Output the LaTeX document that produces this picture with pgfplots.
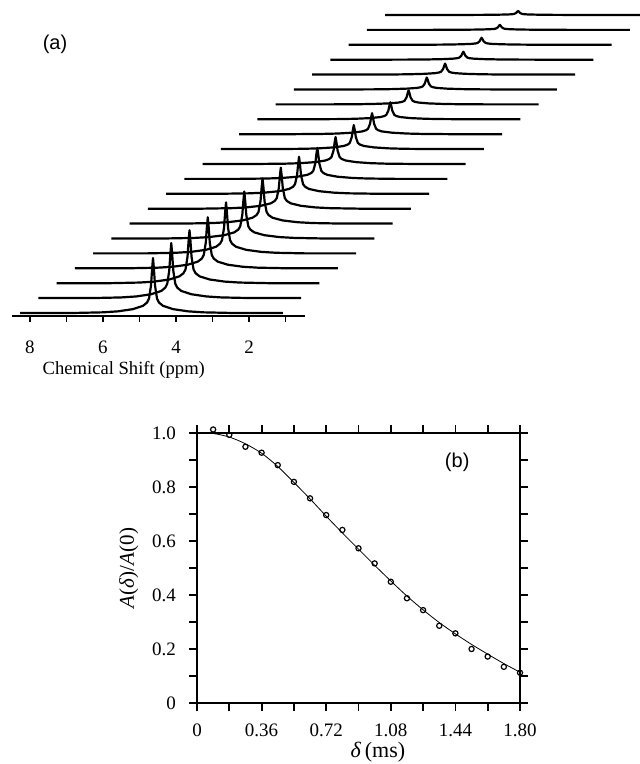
\documentclass[border=0pt]{standalone}
\usepackage{fontspec}
\setmainfont{Liberation Serif}
\newfontfamily\arialfont{Liberation Sans}
\usepackage{pgfplots}
\pgfplotsset{compat=1.18}
\usepackage{pgfplotstable}

% normalised peak profile: d = ppm offset from the peak, I = relative intensity
\pgfplotstableread{
d I
3.64 0
2.19 0
1.37 0.012
0.96 0.03
0.55 0.07
0.274 0.13
0.164 0.19
0.11 0.26
0.055 0.5
0.025 0.8
0 1
-0.025 0.8
-0.055 0.5
-0.11 0.26
-0.164 0.19
-0.274 0.13
-0.55 0.07
-0.96 0.03
-1.37 0.012
-2.19 0
-3.56 0
}\profile

\pgfplotstableread{
t A
0.09 1.013
0.18 0.993
0.27 0.949
0.36 0.927
0.45 0.881
0.54 0.819
0.63 0.758
0.72 0.696
0.81 0.641
0.90 0.573
0.99 0.517
1.08 0.449
1.17 0.388
1.26 0.344
1.35 0.286
1.44 0.258
1.53 0.200
1.62 0.172
1.71 0.134
1.80 0.112
}\points

\pgfplotstableread{
t A
0.00 1.000
0.09 0.998
0.18 0.985
0.27 0.960
0.36 0.925
0.45 0.876
0.54 0.817
0.63 0.756
0.72 0.692
0.81 0.630
0.90 0.570
0.99 0.510
1.08 0.452
1.17 0.396
1.26 0.345
1.35 0.298
1.44 0.256
1.53 0.217
1.62 0.181
1.71 0.146
1.80 0.114
}\fitcurve

% #1 = spectrum index (0..20), #2 = peak height
\newcommand{\spec}[2]{%
  \addplot[black, line width=1.1pt, line join=round] table[x expr=\thisrow{d}+4.63-0.5*#1, y expr=\thisrow{I}*#2+14.9*#1]{\profile};}

\begin{document}
\begin{tikzpicture}
\path[use as bounding box] (0,0) rectangle (319.5pt,382pt);

\begin{axis}[
  at={(6.05pt,224pt)}, anchor=south west,
  scale only axis, width=146.4pt, height=158pt,
  xmin=0.47, xmax=8.49, ymin=-3, ymax=313,
  x dir=reverse, clip=false,
  hide y axis, axis x line*=bottom,
  x axis line style={line width=1.1pt, -},
  xtick={2,4,6,8}, minor xtick={1,3,5,7},
  xticklabels={2,4,6,8},
  tick align=outside, xtick pos=bottom,
  major tick length=3pt, minor tick length=3pt,
  tick style={black, line width=0.9pt},
  xticklabel style={font=\fontsize{9.5}{10}\selectfont, yshift=-6pt},
  /pgf/number format/assume math mode=true,
  xlabel={Chemical Shift (ppm)},
  xlabel style={font=\fontsize{9.3}{11}\selectfont, at={(axis cs:5.43,-3)}, anchor=center, yshift=-27pt},
]
\spec{0}{55}
\spec{1}{55}
\spec{2}{53}
\spec{3}{51}
\spec{4}{51}
\spec{5}{47}
\spec{6}{45}
\spec{7}{41}
\spec{8}{37}
\spec{9}{31}
\spec{10}{27}
\spec{11}{24}
\spec{12}{21}
\spec{13}{17}
\spec{14}{14}
\spec{15}{12}
\spec{16}{11}
\spec{17}{8}
\spec{18}{7}
\spec{19}{5}
\spec{20}{4}
\end{axis}

\node[font=\arialfont\fontsize{10}{12}\selectfont] at (27.5pt,360pt) {(a)};

\begin{axis}[
  at={(98.5pt,30.5pt)}, anchor=south west,
  scale only axis, width=161.5pt, height=135pt,
  xmin=0, xmax=1.8, ymin=0, ymax=1,
  axis line style={line width=1.1pt},
  xtick={0,0.36,0.72,1.08,1.44,1.8},
  xticklabels={0,0.36,0.72,1.08,1.44,1.80},
  minor xtick={0.18,0.54,0.9,1.26,1.62},
  ytick={0,0.2,0.4,0.6,0.8,1},
  yticklabels={0,0.2,0.4,0.6,0.8,1.0},
  minor ytick={0.1,0.3,0.5,0.7,0.9},
  tick align=outside, tick pos=both,
  major tick length=4pt, minor tick length=4pt,
  tick style={black, line width=0.9pt},
  ticklabel style={font=\fontsize{9.5}{10}\selectfont},
  xticklabel style={yshift=-3pt},
  yticklabel style={xshift=-3pt},
  /pgf/number format/assume math mode=true,
  xlabel={\textit{δ}\,(ms)},
  ylabel={\textit{A}(\textit{δ})/\textit{A}(0)},
  xlabel style={font=\fontsize{11}{12}\selectfont, at={(axis description cs:0.56,0)}, anchor=center, yshift=-24.5pt},
  ylabel style={font=\fontsize{10.5}{12}\selectfont},
  clip=false,
]
\addplot[black, line width=0.4pt, smooth] table[x=t, y=A]{\fitcurve};
\addplot[only marks, mark=o, mark size=1.3pt, mark options={line width=0.6pt, black}] table[x=t, y=A]{\points};
\node[font=\arialfont\fontsize{10}{12}\selectfont] at (axis cs:1.45,0.89) {(b)};
\end{axis}
\end{tikzpicture}
\end{document}
